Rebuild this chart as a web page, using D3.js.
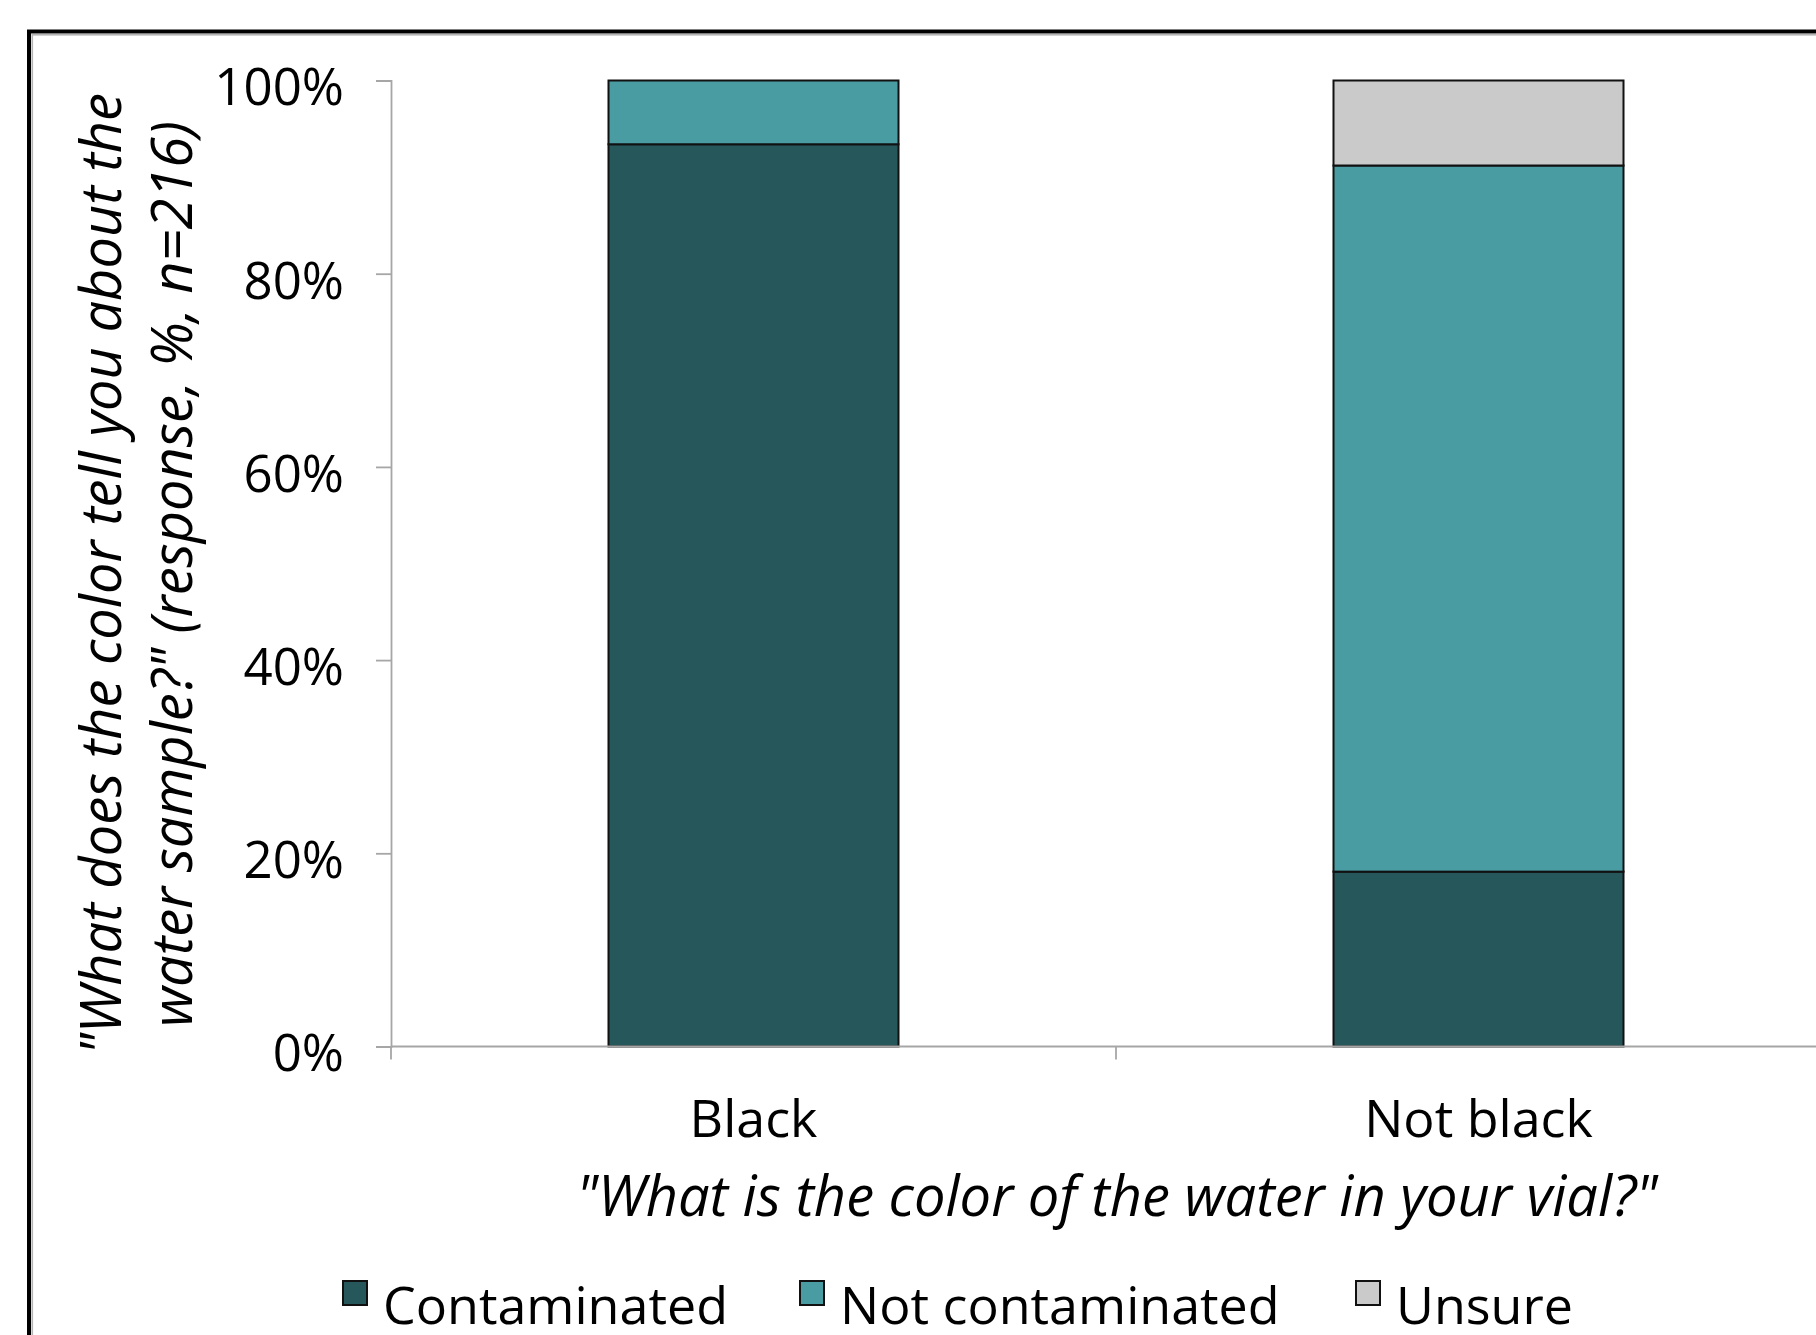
<!DOCTYPE html>
<html>
<head>
<meta charset="utf-8">
<script src="https://cdn.jsdelivr.net/npm/d3@7"></script>
<style>
  html, body { margin: 0; padding: 0; background: #fff; }
  svg { display: block; }
  text { font-family: "Open Sans", "Noto Sans", sans-serif; fill: #000; }
</style>
</head>
<body>
<svg id="chart" width="1816" height="1335"></svg>
<script>
// Survey responses by perceived vial colour (share of respondents)
const categories = ["Black", "Not black"];
const seriesNames = ["Contaminated", "Not contaminated", "Unsure"];
const contaminated = [0.934, 0.181];
const notContaminated = [0.066, 0.731];
const unsure = [0.0, 0.088];
const yTicks = [0, 0.2, 0.4, 0.6, 0.8, 1.0];
const colors = ["#26575B", "#4A9CA3", "#CACACA"];

const xTitle = "\"What is the color of the water in your vial?\"";
const yTitleLines = [
  "\"What does the color tell you about the",
  "water sample?\" (response, %, n=216)"
];

const svg = d3.select("#chart");

// Frame around the chart (runs off the right and bottom edges)
svg.append("rect")
  .attr("x", 29).attr("y", 31.5)
  .attr("width", 1900).attr("height", 1400)
  .attr("fill", "none").attr("stroke", "#000").attr("stroke-width", 4);
svg.append("rect")
  .attr("x", 32.3).attr("y", 34.8)
  .attr("width", 1900).attr("height", 1400)
  .attr("fill", "none").attr("stroke", "#b4b4b4").attr("stroke-width", 1.6);

const plot = { left: 391, right: 1841, top: 80.5, bottom: 1046.5 };

const x = d3.scaleBand()
  .domain(categories)
  .range([plot.left, plot.right])
  .paddingInner(0.6)
  .paddingOuter(0.3);

const y = d3.scaleLinear()
  .domain([0, 1])
  .range([plot.bottom, plot.top]);

// Stack the three response series
const rows = categories.map((c, i) => ({
  category: c,
  "Contaminated": contaminated[i],
  "Not contaminated": notContaminated[i],
  "Unsure": unsure[i]
}));
const stacked = d3.stack().keys(seriesNames)(rows);

const axisColor = "#a6a6a6";

// Y axis
const yAxis = d3.axisLeft(y)
  .tickValues(yTicks)
  .tickFormat(d3.format(".0%"))
  .tickSize(15)
  .tickPadding(32);
const gy = svg.append("g")
  .attr("transform", `translate(${plot.left},0)`)
  .call(yAxis);
gy.select(".domain").attr("stroke", axisColor).attr("stroke-width", 1.8);
gy.selectAll(".tick line").attr("stroke", axisColor).attr("stroke-width", 1.8);
gy.selectAll(".tick text")
  .attr("font-size", 51)
  .attr("dy", "0.48em")
  .style("font-family", "'Open Sans', sans-serif");

// Bars
const layers = svg.append("g")
  .selectAll("g")
  .data(stacked)
  .join("g")
  .attr("fill", (d, i) => colors[i]);

layers.selectAll("rect")
  .data(d => d.filter(s => s[1] - s[0] > 0))
  .join("rect")
  .attr("x", d => x(d.data.category))
  .attr("width", x.bandwidth())
  .attr("y", d => y(d[1]))
  .attr("height", d => y(d[0]) - y(d[1]))
  .attr("stroke", "#111")
  .attr("stroke-width", 2);

// X axis with ticks on category boundaries
const gx = svg.append("g")
  .attr("transform", `translate(0,${plot.bottom})`);
gx.append("line")
  .attr("x1", plot.left).attr("x2", plot.right)
  .attr("stroke", axisColor).attr("stroke-width", 1.8);
const halfGap = (x.step() - x.bandwidth()) / 2;
const boundaries = [plot.left, ...categories.slice(1).map(c => x(c) - halfGap), plot.right];
gx.selectAll("line.bound")
  .data(boundaries)
  .join("line")
  .attr("class", "bound")
  .attr("x1", d => d).attr("x2", d => d)
  .attr("y1", 0).attr("y2", 13)
  .attr("stroke", axisColor).attr("stroke-width", 1.8);
gx.selectAll("text.cat")
  .data(categories)
  .join("text")
  .attr("class", "cat")
  .attr("x", d => x(d) + x.bandwidth() / 2)
  .attr("y", 1137 - plot.bottom)
  .attr("text-anchor", "middle")
  .attr("font-size", 52)
  .text(d => d);

// Axis titles
svg.append("text")
  .attr("x", 1117)
  .attr("y", 1216)
  .attr("text-anchor", "middle")
  .attr("font-size", 56)
  .attr("font-style", "italic")
  .text(xTitle);

const yTitle = svg.append("text")
  .attr("transform", "translate(121,574) rotate(-90)")
  .attr("text-anchor", "middle")
  .attr("font-size", 56)
  .attr("font-style", "italic");
yTitle.selectAll("tspan")
  .data(yTitleLines)
  .join("tspan")
  .attr("x", 0)
  .attr("y", (d, i) => i * 71)
  .text(d => d);

// Legend
const legendItems = [
  { name: seriesNames[0], color: colors[0], x: 343 },
  { name: seriesNames[1], color: colors[1], x: 800 },
  { name: seriesNames[2], color: colors[2], x: 1356 }
];
const lg = svg.append("g");
const li = lg.selectAll("g").data(legendItems).join("g")
  .attr("transform", d => `translate(${d.x},0)`);
li.append("rect")
  .attr("x", 0).attr("y", 1281)
  .attr("width", 24).attr("height", 24)
  .attr("fill", d => d.color)
  .attr("stroke", "#111").attr("stroke-width", 2);
li.append("text")
  .attr("x", 40).attr("y", 1324)
  .attr("font-size", 52)
  .text(d => d.name);
</script>
</body>
</html>
